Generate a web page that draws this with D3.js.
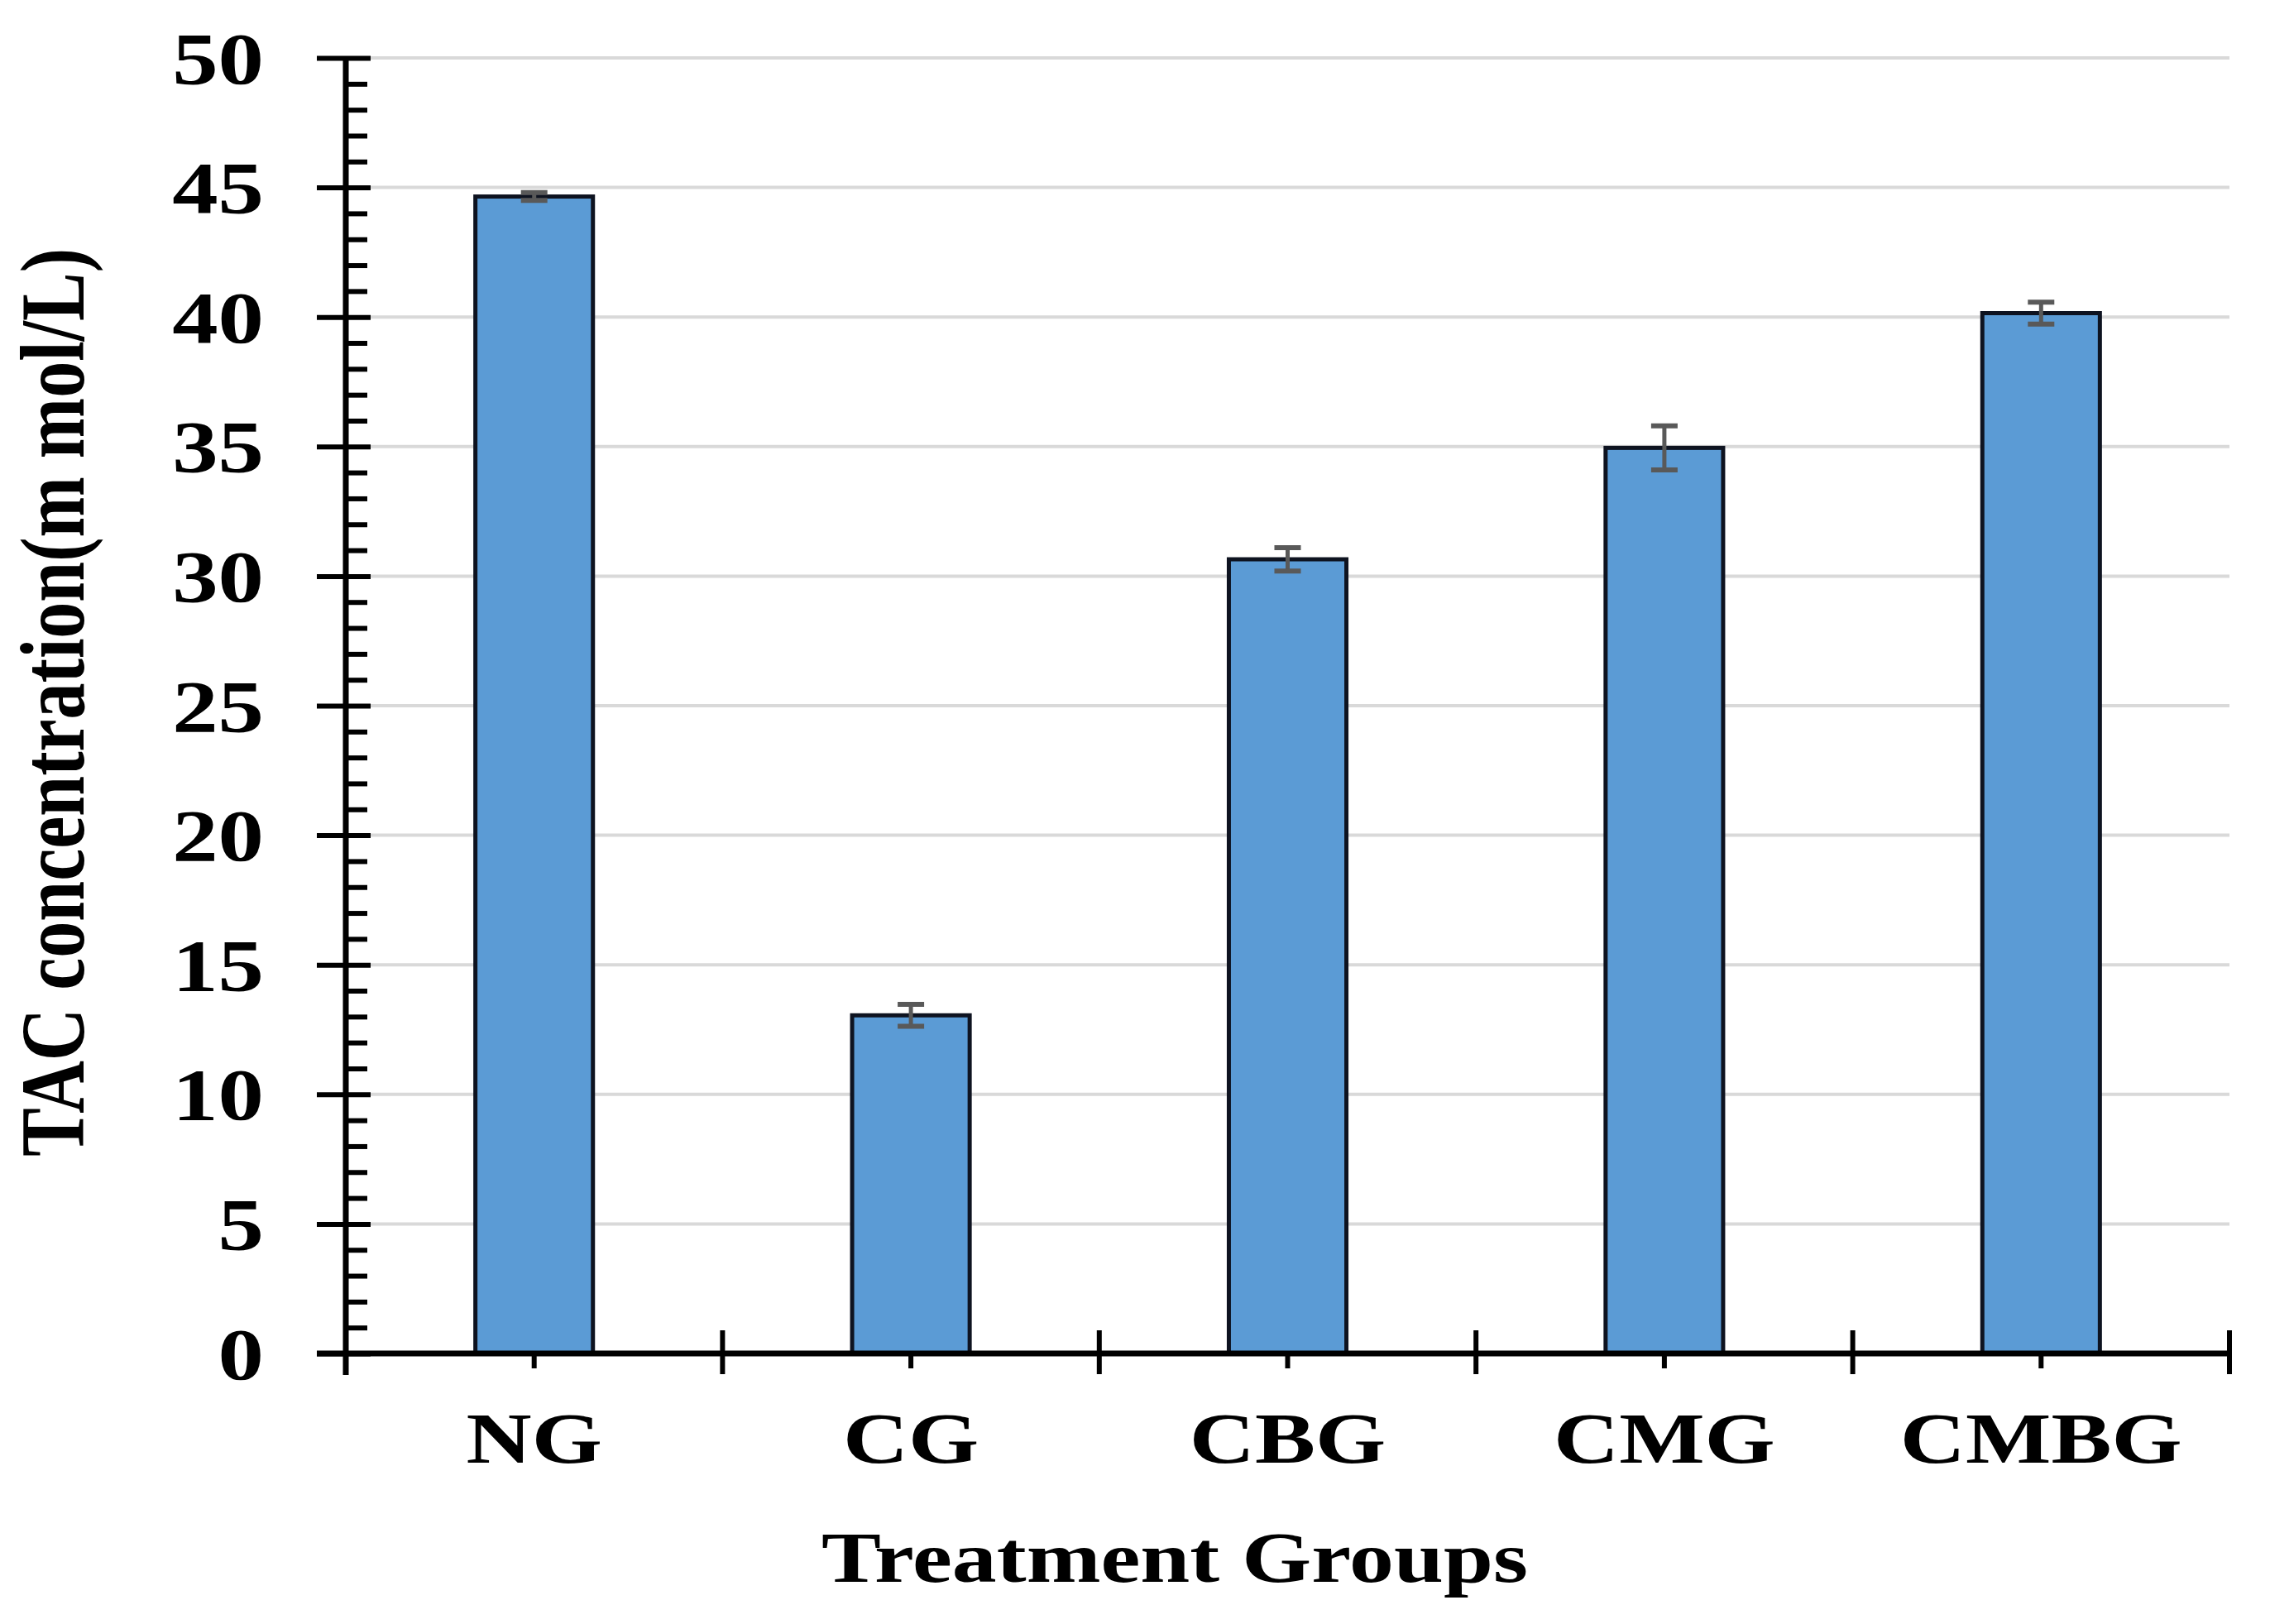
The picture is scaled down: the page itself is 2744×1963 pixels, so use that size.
<!DOCTYPE html>
<html>
<head>
<meta charset="utf-8">
<script src="https://cdn.jsdelivr.net/npm/d3@7"></script>
<style>
  html, body { margin: 0; padding: 0; background: #ffffff; }
  svg { display: block; }
  text { font-family: "Liberation Serif", "Times New Roman", serif; font-weight: bold; fill: #000; }
</style>
</head>
<body>
<svg id="chart" width="2744" height="1963"></svg>
<script>
// ---- data ----
const categories = ["NG", "CG", "CBG", "CMG", "CMBG"];
const values = [44.65, 13.05, 30.65, 34.95, 40.15];
const errors = [0.15, 0.42, 0.45, 0.85, 0.42];
const yTicks = [0, 5, 10, 15, 20, 25, 30, 35, 40, 45, 50];
const yTitle = "TAC concentration(m mol/L)";
const xTitle = "Treatment Groups";

(function () {
// ---- layout ----
const W = 2744, H = 1963;
const mLeft = 418, mRight = 2695, mTop = 70, mBottom = 1636;
const stretch = 1.26;

const svg = d3.select("#chart");
svg.append("rect").attr("width", W).attr("height", H).attr("fill", "#fff");

const y = d3.scaleLinear().domain([0, 50]).range([mBottom, mTop]);
const x = d3.scaleBand().domain(categories).range([mLeft, mRight])
  .paddingInner(0.688).paddingOuter(0.344);

// gridlines
svg.append("g").selectAll("line")
  .data(yTicks.filter(d => d > 0))
  .join("line")
  .attr("x1", mLeft).attr("x2", mRight)
  .attr("y1", d => y(d)).attr("y2", d => y(d))
  .attr("stroke", "#d9d9d9").attr("stroke-width", 4);

// bars
svg.append("g").selectAll("rect")
  .data(categories)
  .join("rect")
  .attr("x", d => x(d))
  .attr("width", x.bandwidth())
  .attr("y", (d, i) => y(values[i]))
  .attr("height", (d, i) => y(0) - y(values[i]))
  .attr("fill", "#5b9bd5")
  .attr("stroke", "#0e1320")
  .attr("stroke-width", 5);

// error bars
const eg = svg.append("g").attr("stroke", "#595959");
categories.forEach((c, i) => {
  const cx = x(c) + x.bandwidth() / 2;
  const lo = y(values[i] - errors[i]), hi = y(values[i] + errors[i]);
  eg.append("line").attr("x1", cx).attr("x2", cx).attr("y1", lo).attr("y2", hi).attr("stroke-width", 5);
  eg.append("line").attr("x1", cx - 16).attr("x2", cx + 16).attr("y1", hi).attr("y2", hi).attr("stroke-width", 6);
  eg.append("line").attr("x1", cx - 16).attr("x2", cx + 16).attr("y1", lo).attr("y2", lo).attr("stroke-width", 6);
});

// y axis: minor ticks
const minor = d3.range(0, 51).filter(d => d % 5 !== 0);
svg.append("g").attr("transform", `translate(${mLeft},0)`)
  .call(d3.axisRight(y).tickValues(minor).tickSize(26).tickFormat(""))
  .call(g => g.select(".domain").remove())
  .call(g => g.selectAll(".tick line").attr("stroke", "#000").attr("stroke-width", 6));

// y axis: major ticks + labels
svg.append("g").attr("transform", `translate(${mLeft},0)`)
  .call(d3.axisLeft(y).tickValues(yTicks).tickSize(35).tickFormat(d3.format("d")))
  .call(g => g.select(".domain").remove())
  .call(g => g.selectAll(".tick line").attr("x1", 30).attr("stroke", "#000").attr("stroke-width", 6))
  .call(g => g.selectAll(".tick text")
    .attr("x", null).attr("dy", null)
    .attr("transform", `translate(-99,30) scale(${stretch},1)`)
    .attr("text-anchor", "end")
    .style("font-size", "88px")
    .style("font-family", "'Liberation Serif', 'Times New Roman', serif")
    .style("font-weight", "bold")
    .attr("fill", "#000"));

// y axis line
svg.append("line").attr("x1", mLeft).attr("x2", mLeft).attr("y1", mTop).attr("y2", mBottom + 26)
  .attr("stroke", "#000").attr("stroke-width", 7);

// x axis line
svg.append("line").attr("x1", mLeft - 35).attr("x2", mRight).attr("y1", mBottom).attr("y2", mBottom)
  .attr("stroke", "#000").attr("stroke-width", 7);

// category separator ticks (crossing)
const bounds = d3.range(1, categories.length + 1).map(i => x.range()[0] + i * x.step());
svg.append("g").selectAll("line")
  .data(bounds)
  .join("line")
  .attr("x1", d => d).attr("x2", d => d)
  .attr("y1", mBottom - 28).attr("y2", mBottom + 25)
  .attr("stroke", "#000").attr("stroke-width", 6);

// x axis: center ticks + labels
svg.append("g").attr("transform", `translate(0,${mBottom})`)
  .call(d3.axisBottom(x).tickSize(18).tickSizeOuter(0))
  .call(g => g.select(".domain").remove())
  .call(g => g.selectAll(".tick line").attr("stroke", "#000").attr("stroke-width", 6))
  .call(g => g.selectAll(".tick text")
    .attr("y", null).attr("dy", null)
    .attr("transform", `translate(0,132) scale(${stretch},1)`)
    .attr("text-anchor", "middle")
    .style("font-size", "87px")
    .style("font-family", "'Liberation Serif', 'Times New Roman', serif")
    .style("font-weight", "bold")
    .attr("fill", "#000"));

// axis titles
svg.append("text")
  .attr("transform", `translate(1420,1912) scale(1.24,1)`)
  .attr("text-anchor", "middle")
  .style("font-size", "87px")
  .text(xTitle);

svg.append("text")
  .attr("transform", `translate(101,849) scale(1.25,1) rotate(-90)`)
  .attr("text-anchor", "middle")
  .style("font-size", "88px")
  .text(yTitle);
})();
</script>
</body>
</html>
